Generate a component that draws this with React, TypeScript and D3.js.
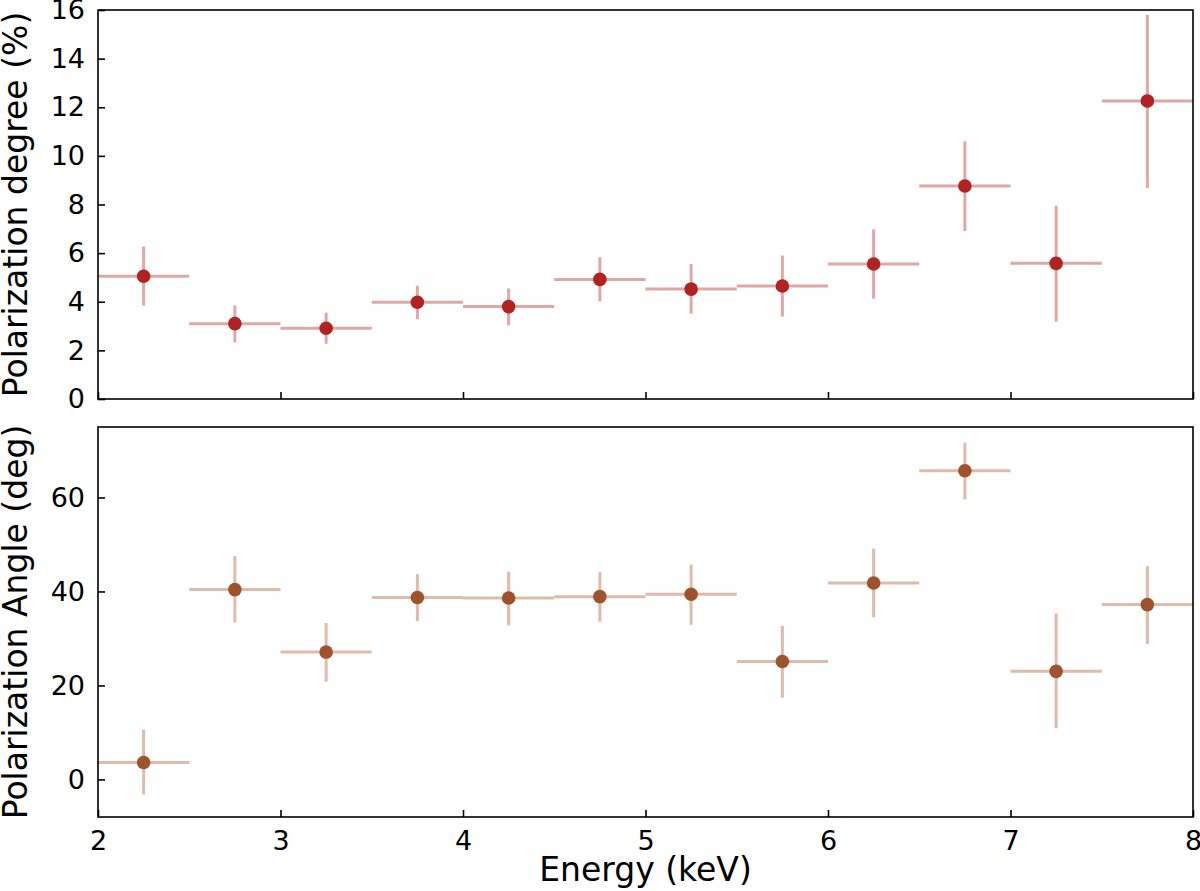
import * as d3 from "d3"
import React, { useRef, useEffect } from 'react';

// energy bins (keV), centre and half width
const energy = [2.25, 2.75, 3.25, 3.75, 4.25, 4.75, 5.25, 5.75, 6.25, 6.75, 7.25, 7.75];
const halfBin = 0.25;

// polarization degree (%) with upper / lower error ends
const pd = [5.05, 3.10, 2.91, 3.98, 3.80, 4.92, 4.52, 4.65, 5.55, 8.76, 5.58, 12.26];
const pdHi = [6.27, 3.85, 3.55, 4.66, 4.55, 5.83, 5.55, 5.90, 6.98, 10.6, 7.95, 15.8];
const pdLo = [3.84, 2.33, 2.27, 3.28, 3.03, 4.02, 3.51, 3.39, 4.13, 6.91, 3.18, 8.68];

// polarization angle (deg)
const pa = [3.6, 40.4, 27.1, 38.7, 38.6, 38.9, 39.4, 25.1, 41.8, 65.7, 23.0, 37.2];
const paHi = [10.6, 47.5, 33.3, 43.7, 44.2, 44.1, 45.7, 32.7, 49.1, 71.7, 35.3, 45.4];
const paLo = [-3.2, 33.4, 20.8, 33.7, 32.8, 33.6, 32.9, 17.4, 34.5, 59.6, 10.9, 28.8];

const xTicks = [2, 3, 4, 5, 6, 7, 8];
const pdTicks = [0, 2, 4, 6, 8, 10, 12, 14, 16];
const paTicks = [0, 20, 40, 60];

const App: React.FC = () => {
    const svgRef = useRef<SVGSVGElement | null>(null);

    useEffect(() => {
        const width = 1200;
        const height = 891;
        const l = 98;
        const r = 1193;
        const font = "DejaVu Sans, sans-serif";

        const svg = d3.select(svgRef.current)
            .attr('width', width)
            .attr('height', height);
        svg.selectAll('*').remove();

        svg.append('rect')
            .attr('width', width)
            .attr('height', height)
            .attr('fill', '#FFFFFF');

        const x = d3.scaleLinear().domain([2, 8]).range([l, r]);

        const panels = [
            { top: 10, bottom: 399, domain: [0, 16], ticks: pdTicks, y: pd, hi: pdHi, lo: pdLo,
              color: '#b22222', errColor: '#e0a7a7', label: 'Polarization degree (%)', xLabels: false },
            { top: 427, bottom: 817, domain: [-8, 75], ticks: paTicks, y: pa, hi: paHi, lo: paLo,
              color: '#a0522d', errColor: '#e0baab', label: 'Polarization Angle (deg)', xLabels: true },
        ];

        panels.forEach((p) => {
            const y = d3.scaleLinear().domain(p.domain).range([p.bottom, p.top]);
            const g = svg.append('g');

            // error bars
            energy.forEach((e, i) => {
                g.append('line')
                    .attr('x1', x(e - halfBin)).attr('x2', x(e + halfBin))
                    .attr('y1', y(p.y[i])).attr('y2', y(p.y[i]))
                    .attr('stroke', p.errColor).attr('stroke-width', 3);
                g.append('line')
                    .attr('x1', x(e)).attr('x2', x(e))
                    .attr('y1', y(p.lo[i])).attr('y2', y(p.hi[i]))
                    .attr('stroke', p.errColor).attr('stroke-width', 3);
            });

            // markers
            g.selectAll('.pt')
                .data(energy)
                .enter()
                .append('circle')
                .attr('cx', (d) => x(d))
                .attr('cy', (d, i) => y(p.y[i]))
                .attr('r', 6.8)
                .attr('fill', p.color);

            // axes with inward ticks
            const xAxis = d3.axisBottom(x).tickValues(xTicks).tickSizeInner(-7).tickSizeOuter(0)
                .tickPadding(14).tickFormat((d) => p.xLabels ? d3.format('d')(d as number) : '');
            const ax = g.append('g')
                .attr('transform', `translate(0,${p.bottom})`)
                .call(xAxis);
            const yAxis = d3.axisLeft(y).tickValues(p.ticks).tickSizeInner(-7).tickSizeOuter(0)
                .tickPadding(13).tickFormat(d3.format('d'));
            const ay = g.append('g')
                .attr('transform', `translate(${l},0)`)
                .call(yAxis);

            [ax, ay].forEach((a) => {
                a.select('.domain').remove();
                a.selectAll('.tick line').attr('stroke', '#000').attr('stroke-width', 1.6);
                a.selectAll('.tick text')
                    .attr('fill', '#000')
                    .style('font-family', font)
                    .style('font-size', '27px');
            });

            // frame
            g.append('rect')
                .attr('x', l).attr('y', p.top)
                .attr('width', r - l).attr('height', p.bottom - p.top)
                .attr('fill', 'none').attr('stroke', '#000').attr('stroke-width', 1.6);

            // y label
            g.append('text')
                .attr('transform', `translate(27,${(p.top + p.bottom) / 2}) rotate(-90)`)
                .attr('text-anchor', 'middle')
                .style('font-family', font)
                .style('font-size', '33px')
                .text(p.label);
        });

        svg.append('text')
            .attr('x', x(5))
            .attr('y', 881)
            .attr('text-anchor', 'middle')
            .style('font-family', font)
            .style('font-size', '33px')
            .text('Energy (keV)');
    }, []);

    return (
        <svg ref={svgRef} style={{ position: 'absolute', left: 0, top: 0 }}></svg>
    );
};

export default App;
